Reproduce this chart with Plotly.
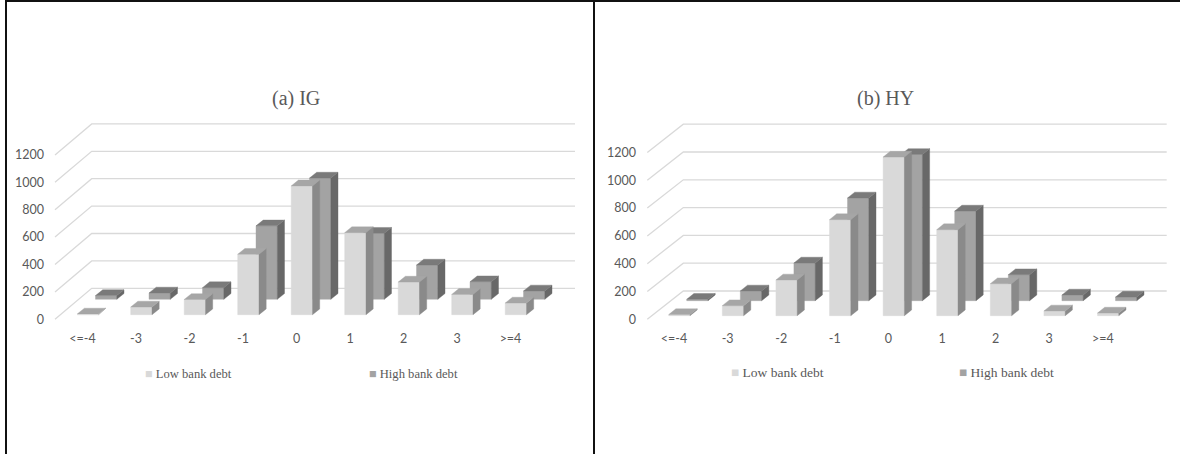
import plotly.graph_objects as go

W, H = 1180, 454

categories = ["<=-4", "-3", "-2", "-1", "0", "1", "2", "3", ">=4"]
ig_low = [5, 56, 111, 441, 940, 599, 238, 148, 85]
ig_high = [27, 46, 85, 536, 885, 482, 250, 128, 61]
hy_low = [8, 72, 257, 691, 1141, 619, 230, 34, 19]
hy_high = [10, 70, 271, 739, 1052, 645, 187, 41, 26]
y_ticks = [0, 200, 400, 600, 800, 1000, 1200]

LOW = dict(front="#d9d9d9", side="#8a8a8a", top="#a6a6a6")
HIGH = dict(front="#a3a3a3", side="#686868", top="#7a7a7a")
GRID = "#d9d9d9"
TICK = "#595959"

panels = [
    dict(title="(a) IG", low=ig_low, high=ig_high, left=50, right=585, x0=82.5, unit=53.5,
         front=55, back=91.7, back_end=575, back_rise=31, ppu=0.137, low_x=0.1, low_base=4.6,
         high_dx=18.3, high_dy=15.4, title_x=295.5, title_y=98, leg_size=12.6,
         leg_low=(147, 374), leg_high=(371, 374)),
    dict(title="(b) HY", low=hy_low, high=hy_high, left=642, right=1175, x0=674, unit=53.6,
         front=647.3, back=683.3, back_end=1166.7, back_rise=28.3, ppu=0.139, low_x=0.1, low_base=3.6,
         high_dx=18, high_dy=15, title_x=885, title_y=98, leg_size=13.5,
         leg_low=(733, 372), leg_high=(961, 372)),
]

ZERO_PY, TOP_PY, BOTTOM_PY = 319.3, 118, 327
BAR_W, DEPTH_X, DEPTH_Y = 21.3, 7.2, 5.8

fig = go.Figure()
layout = dict(
    width=W, height=H, margin=dict(l=0, r=0, t=0, b=0), autosize=False,
    paper_bgcolor="white", plot_bgcolor="rgba(0,0,0,0)", showlegend=False,
    annotations=[], shapes=[],
)

for n, p in enumerate(panels):
    suffix = "" if n == 0 else str(n + 1)
    xa, ya = "x" + suffix, "y" + suffix
    ppu, unit = p["ppu"], p["unit"]

    def x_of(px):
        return (px - p["x0"]) / unit

    layout["xaxis" + suffix] = dict(
        domain=[p["left"] / W, p["right"] / W], range=[x_of(p["left"]), x_of(p["right"])],
        tickmode="array", tickvals=list(range(len(categories))), ticktext=categories,
        showgrid=False, zeroline=False, showline=False, ticks="", fixedrange=True,
        tickfont=dict(family="Lato", size=12.5, color=TICK), anchor=ya, ticklabelstandoff=2,
    )
    layout["yaxis" + suffix] = dict(
        domain=[1 - BOTTOM_PY / H, 1 - TOP_PY / H],
        range=[(ZERO_PY - BOTTOM_PY) / ppu, (ZERO_PY - TOP_PY) / ppu],
        tickmode="array", tickvals=y_ticks,
        showgrid=False, zeroline=False, showline=False, ticks="", fixedrange=True,
        tickfont=dict(family="Lato", size=12.5, color=TICK), anchor=xa,
        ticklabelstandoff=5,
    )

    # perspective wall: every gridline runs from the front edge to the back wall
    gx, gy = [], []
    for t in y_ticks:
        gx += [x_of(p["front"]), x_of(p["back"]), x_of(p["back_end"]), None]
        gy += [t, t + p["back_rise"] / ppu, t + p["back_rise"] / ppu, None]
    fig.add_trace(go.Scatter(x=gx, y=gy, mode="lines", line=dict(color=GRID, width=1.3),
                             hoverinfo="skip", xaxis=xa, yaxis=ya, name="grid"))

    series = [
        ("High bank debt", p["high"], HIGH, p["low_x"] * unit + p["high_dx"], p["low_base"] + p["high_dy"]),
        ("Low bank debt", p["low"], LOW, p["low_x"] * unit, p["low_base"]),
    ]
    for name, values, col, off_x, base_py in series:
        faces = {"front": ([], []), "side": ([], []), "top": ([], [])}
        dxu, dyv = DEPTH_X / unit, DEPTH_Y / ppu
        hw = BAR_W / 2 / unit
        ox = off_x / unit
        b = base_py / ppu
        for i, v in enumerate(values):
            l, r, y0, y1 = i + ox - hw, i + ox + hw, b, b + v
            polys = {
                "front": [(l, y0), (r, y0), (r, y1), (l, y1)],
                "side": [(r, y0), (r + dxu, y0 + dyv), (r + dxu, y1 + dyv), (r, y1)],
                "top": [(l, y1), (r, y1), (r + dxu, y1 + dyv), (l + dxu, y1 + dyv)],
            }
            for k, poly in polys.items():
                faces[k][0].extend([q[0] for q in poly] + [poly[0][0], None])
                faces[k][1].extend([q[1] for q in poly] + [poly[0][1], None])
        for k in ("front", "side", "top"):
            fig.add_trace(go.Scatter(x=faces[k][0], y=faces[k][1], mode="lines", fill="toself",
                                     fillcolor=col[k], line=dict(color=col[k], width=0.4),
                                     hoverinfo="skip", name=name, xaxis=xa, yaxis=ya))

    layout["annotations"].append(dict(
        text=p["title"], xref="paper", yref="paper", x=p["title_x"] / W, y=1 - p["title_y"] / H,
        showarrow=False, xanchor="center", yanchor="middle",
        font=dict(family="Liberation Serif", size=20, color=TICK)))
    for (lx, ly), label, col in ((p["leg_low"], "Low bank debt", LOW), (p["leg_high"], "High bank debt", HIGH)):
        layout["annotations"].append(dict(
            text=f'<span style="color:{col["front"]}">■</span> {label}',
            xref="paper", yref="paper", x=lx / W, y=1 - ly / H, showarrow=False,
            xanchor="left", yanchor="middle", xshift=-4,
            font=dict(family="Liberation Serif", size=p["leg_size"], color=TICK)))

# black frame: top rule, left edge and the divider between the panels
for x0, y0, x1, y1 in ((5, 1, W, 1), (6, 0, 6, H), (594, 0, 594, H)):
    layout["shapes"].append(dict(type="line", xref="paper", yref="paper",
                                 x0=x0 / W, x1=x1 / W, y0=1 - y0 / H, y1=1 - y1 / H,
                                 line=dict(color="#111111", width=2)))

fig.update_layout(**layout)
fig.write_html("out.html", config={"displayModeBar": False},
               post_script="document.body.style.margin='0';document.body.style.overflow='hidden';")
